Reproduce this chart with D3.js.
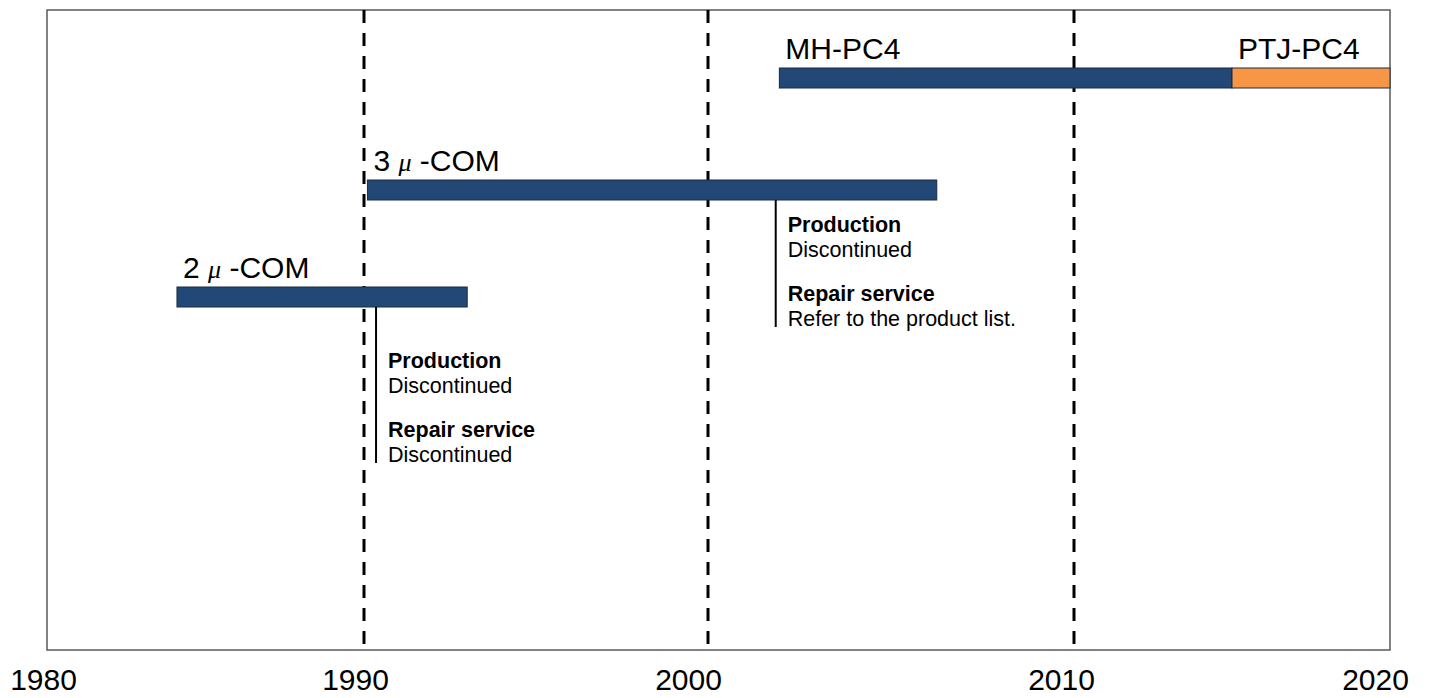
<!DOCTYPE html>
<html>
<head>
<meta charset="utf-8">
<script src="https://cdn.jsdelivr.net/npm/d3@7"></script>
<style>
body{margin:0;background:#fff}
text{font-family:"Liberation Sans",Arial,sans-serif;fill:#000}
</style>
</head>
<body>
<script>
// chart values
var years = [1980,1990,2000,2010,2020]
var guideYears = [1990,2000,2010]
var barNames = ["2 μ -COM","3 μ -COM","MH-PC4","PTJ-PC4"]
var barStart = [1984.1,1990.1,2001.95,2015.0]
var barEnd = [1993.0,2006.25,2015.0,2020]
var barRow = [2,1,0,0]
var noteYear = [1990.35,2001.85]
var noteRow = [2,1]
var noteProduction = ["Discontinued","Discontinued"]
var noteRepair = ["Discontinued","Refer to the product list."]

var W=1430,H=698
var svg=d3.select("body").append("svg").attr("width",W).attr("height",H)

// the source picture is not evenly spaced, so piecewise scales
var x=d3.scaleLinear().domain(years).range([47,364,708,1074,1390])
var xLabel=d3.scaleLinear().domain(years).range([43,355,688,1061,1375])
var y=d3.scaleLinear().domain([0,1,2]).range([68,180,287])
var color=d3.scaleOrdinal().domain(barNames).range(["#224878","#224878","#224878","#f79646"])
var barH=20
var plotTop=10,plotBottom=650

// frame
svg.append("rect")
    .attr("x",x(1980)).attr("y",plotTop)
    .attr("width",x(2020)-x(1980)).attr("height",plotBottom-plotTop)
    .attr("fill","none").attr("stroke","#5a5a5a").attr("stroke-width",1.5)

// decade guides
svg.selectAll(".guide").data(guideYears).enter()
    .append("line").attr("class","guide")
    .attr("x1",function(d){return x(d)}).attr("x2",function(d){return x(d)})
    .attr("y1",plotTop).attr("y2",plotBottom)
    .attr("stroke","#000").attr("stroke-width",3)
    .attr("stroke-dasharray","13,10")

// axis labels
var axis=svg.append("g").call(d3.axisBottom(xLabel).tickValues(years).tickSize(0).tickFormat(d3.format("d")))
axis.select(".domain").remove()
axis.selectAll("text")
    .attr("y",690).attr("dy",null)
    .style("font-size","30px")
    .style("font-family","'Liberation Sans',Arial,sans-serif")
    .attr("fill","#000")

// bars
var bars=barNames.map(function(n,i){return {name:n,s:barStart[i],e:barEnd[i],row:barRow[i]}})
svg.selectAll(".bar").data(bars).enter()
    .append("rect").attr("class","bar")
    .attr("x",function(d){return x(d.s)})
    .attr("y",function(d){return y(d.row)})
    .attr("width",function(d){return x(d.e)-x(d.s)})
    .attr("height",barH)
    .attr("fill",function(d){return color(d.name)})
    .attr("stroke","#1b2a3c").attr("stroke-width",1)

var lbl=svg.selectAll(".lbl").data(bars).enter()
    .append("text").attr("class","lbl")
    .attr("x",function(d){return x(d.s)+6})
    .attr("y",function(d){return y(d.row)-9})
    .style("font-size","30px")
lbl.each(function(d){
    var t=d3.select(this)
    var parts=d.name.split("μ")
    t.append("tspan").text(parts[0])
    if(parts.length>1){
        t.append("tspan").text("μ")
            .style("font-family","'Liberation Serif',serif").style("font-style","italic")
            .style("font-size","26px")
        t.append("tspan").text(parts[1])
    }
})

// discontinuation notes
var noteDrop=[61,32]
var notes=noteYear.map(function(v,i){return {yr:v,row:noteRow[i],prod:noteProduction[i],rep:noteRepair[i],drop:noteDrop[i]}})
var ng=svg.selectAll(".note").data(notes).enter().append("g").attr("class","note")
ng.append("line")
    .attr("x1",function(d){return x(d.yr)}).attr("x2",function(d){return x(d.yr)})
    .attr("y1",function(d){return y(d.row)+barH})
    .attr("y2",function(d){return y(d.row)+barH+d.drop+95})
    .attr("stroke","#000").attr("stroke-width",2)
var rowsTxt=[
    {k:"h1",off:0,bold:true},
    {k:"prod",off:25,bold:false},
    {k:"h2",off:69,bold:true},
    {k:"rep",off:94,bold:false}]
ng.each(function(d){
    var g=d3.select(this)
    rowsTxt.forEach(function(r){
        var s=r.k=="h1"?"Production":r.k=="h2"?"Repair service":d[r.k]
        g.append("text")
            .attr("x",x(d.yr)+12)
            .attr("y",y(d.row)+barH+d.drop+r.off)
            .style("font-size","21.5px")
            .style("font-weight",r.bold?"bold":"normal")
            .text(s)
    })
})
</script>
</body>
</html>
